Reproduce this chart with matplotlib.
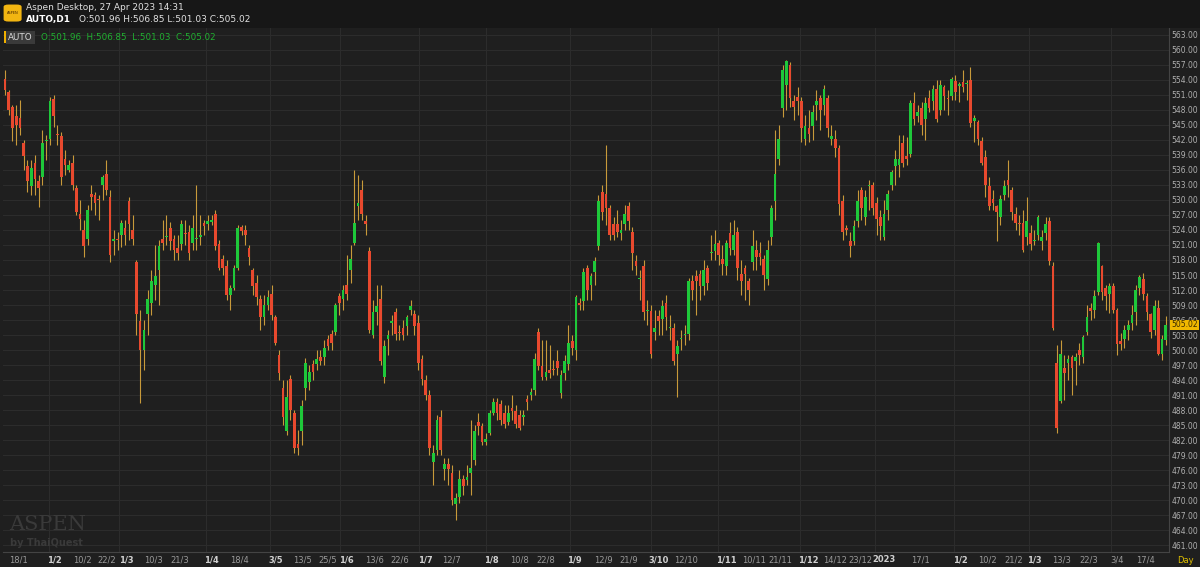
import matplotlib
matplotlib.use("Agg")
import matplotlib.pyplot as plt
from matplotlib.patches import FancyBboxPatch
import numpy as np

# O, H, L, C per daily candle (AUTO, D1)
candles = [
(554.1,556,551,551.9),(551.5,552,547,547.9),(548.6,549,541.8,544.3),(546.8,549,541,545.0),(546.4,550,543,544.3),
(541.4,542,536,538.8),(536.7,538,531.5,533.8),(532.7,538,531,536.3),(537.4,539,531,534.1),(533.8,535,528.5,532.3),
(534.5,544,533,541.4),(541.7,543,538,541.9),(542.1,550.5,541,549.7),(550.1,551,544.5,546.8),(543.2,545,541,543.0),
(542.8,543.5,533,534.5),(538.1,540,535,537.0),(536.0,538,535.5,537.0),(537.4,539,532,533.0),(532.3,533,527,527.6),
(527.2,530,524,526.1),(524.0,526,518.5,520.7),(522.2,529,521,528.0),(531.2,533,528,530.5),(530.9,531.5,527,529.4),
(530.2,531,526,530.0),(533.0,535,530,534.5),(535.2,538,531,532.0),(530.5,532,517.5,519.0),(521.8,524,519,522.2),
(522.2,523.5,520,522.0),(522.9,526,520.5,525.4),(524.3,526,521,522.9),(529.8,530.5,522,525.1),(524.0,527,521,522.2),
(517.5,518,503,507.3),(505.9,508,489.5,500.1),(500.1,506,496,504.1),(507.3,512,503,510.2),(509.5,516,507,513.8),
(513.1,521,510,514.9),(516.0,522,509,520.7),(522.2,526,520,521.4),(522.5,527,521,522.6),(524.3,525.5,520,521.8),
(522.2,523,518,520.0),(520.4,523,518,519.3),(521.1,526,520,525.1),(523.3,526,521,523.2),(523.6,525,518,519.3),
(521.4,527,520,524.3),(522.2,533,520,522.3),(522.5,527,521,522.9),(525.4,526,523,524.7),(525.2,527,524,525.8),
(525.6,527,525,526.0),(527.2,528,520,520.7),(521.1,522,516,516.4),(518.2,519,515,516.4),(516.7,518,510,511.0),
(511.0,513,508,512.4),(512.4,517,512,516.4),(516.4,525,516,524.3),(524.5,525,523,523.7),(524.0,525,521,522.9),
(520.4,521,517,518.6),(516.0,516.5,511,512.8),(513.5,515,509,510.6),(510.2,511,504,506.6),(506.6,511,505,509.1),
(509.1,512,508,510.6),(511.3,513,506,507.0),(506.6,507,501,501.5),(499.0,500,494,495.4),(492.5,494,485,486.7),
(483.8,494,483,490.7),(494.3,495,486,488.1),(487.4,488,479.5,480.5),(481.2,484,479,480.5),(483.8,490,481,488.8),
(492.5,498.5,490,497.5),(493.6,497,492,495.7),(497.2,498,494,495.7),(497.2,500,496,498.3),(498.6,500,497,497.9),
(498.6,502,497,500.4),(502.2,503,500,500.8),(503.3,504,500,501.5),(503.7,509.5,503,509.1),(510.9,511.5,507,509.5),
(510.2,513,508,512.0),(513.1,519,510,511.3),(516.0,521,513.5,518.2),(521.4,536,521,525.4),(528.7,535,526,529.4),
(532.0,534,526,527.2),(525.8,527,523,525.1),(519.7,520.5,503.5,504.1),(503.0,510,502.5,507.7),(507.7,513,505,508.8),
(510.2,513,497,497.9),(494.6,502,493.5,500.8),(502.2,504,499,503.0),(505.5,507,503,505.6),(507.7,508.5,502,503.3),
(503.7,505,502,503.4),(504.4,506,502,503.0),(504.8,507,503,506.6),(508.0,510,507,508.8),(507.3,508,503,504.8),
(505.5,507,496,497.5),(498.3,499,493,494.3),(494.0,495,490,491.0),(491.0,492,479,480.5),(477.6,481,473,479.4),
(480.1,487,479,486.0),(486.7,488,479,480.1),(476.2,478.5,474,477.2),(477.2,478.5,473,476.2),(475.4,477,469,470.0),
(469.3,471.5,466,470.4),(470.7,476,469.5,474.3),(474.3,475,471,472.9),(474.0,477,473,474.7),(475.4,486,471,476.5),
(478.0,485,477,483.8),(485.6,487.5,483,484.9),(484.9,485.5,481,481.6),(481.6,483.5,481,482.3),(483.4,488,483,487.4),
(487.4,490.5,487,489.6),(489.6,490.5,486,487.4),(489.2,490,485,486.0),(487.4,489,484.5,485.2),(485.6,489,485,487.4),
(488.5,491,486,487.8),(487.8,489,484.5,485.2),(487.1,488,484,484.5),(486.7,488,485,487.1),(490.3,491,488,489.6),
(491.0,492.5,490,491.7),(492.1,499.5,491,498.3),(503.7,504.5,496,496.8),(496.8,502,494,494.6),(494.6,502,494,495.7),
(496.1,501,494.5,495.4),(496.1,498,495,496.0),(497.9,500,495,496.4),(491.4,496,490.5,495.0),(495.4,499,494,497.9),
(497.2,505,496,501.5),(501.9,503,499,500.4),(500.1,511,498,510.6),(509.5,510.5,508,509.1),(509.9,516.5,508,515.6),
(516.4,517,510,512.0),(513.1,515.5,510,514.9),(515.6,518.5,513,517.8),(520.7,531,520,529.8),(531.6,533,526,527.6),
(531.2,541,525,528.3),(528.3,529,522,522.9),(525.1,526.5,522,522.9),(525.1,528,522.5,523.6),(523.3,526,522,524.0),
(525.1,529,524,527.2),(528.7,529.5,524,525.8),(523.6,524.5,516,519.3),(517.8,519,515,516.7),(514.2,516,510,514.3),
(516.7,518,506,507.7),(507.8,510,505,507.9),(507.8,509,498.5,499.3),(503.7,508,502,504.4),(506.9,508,503,505.9),
(506.2,510,503,508.8),(509.5,511,504,506.6),(504.4,507,502,504.5),(504.4,505.5,497,497.9),(499.3,502,490.7,500.8),
(502.2,504,500,502.3),(503.0,505,501,503.1),(503.3,514.5,502,513.8),(513.8,515,510,512.0),(514.9,516,507,513.8),
(515.3,516,510,512.8),(512.8,518,511,516.0),(516.4,517,512,513.5),(519.4,523,518,519.5),(519.7,524,518,521.1),
(521.4,522,517,518.9),(518.2,521,515,517.1),(516.7,522,515,521.4),(523.3,525.5,519,520.4),(520.0,526,519,522.9),
(523.6,524.5,514,516.4),(515.3,518,511,513.8),(516.4,517,510,515.3),(513.8,514.5,509,512.0),(517.5,524,516,520.7),
(520.0,522,516,518.6),(519.3,521.5,517,518.6),(518.2,519,512,515.0),(514.2,522,513,520.0),(522.5,529,521,528.3),
(529.8,544,526,535.2),(538.1,545,537,542.1),(548.3,557,546.5,555.9),(553.0,558,548,557.7),(557.0,557.5,548.5,550.4),
(549.7,551,546,548.6),(550.6,552.5,547,549.7),(549.7,550.5,541.5,544.3),(542.1,547,541,544.7),(544.3,548,541.5,543.2),
(544.7,549,542,547.5),(549.0,552,546,549.7),(550.4,551,544,547.9),(549.0,553,547,552.2),(550.4,551,542.5,544.3),
(542.1,545,541,542.8),(542.1,544,538.5,540.3),(540.3,541,527,529.1),(529.8,531,522,523.6),(524.3,525,523,524.0),
(521.8,523.5,518.5,520.7),(521.8,526,521,524.7),(525.8,532,524.5,529.8),(532.0,532.5,526,528.3),(526.5,532,525,530.5),
(532.7,534,528,532.8),(533.0,533.5,527,528.3),(529.4,530.5,523,526.1),(526.5,528,522,524.7),(522.5,530,522,527.2),
(528.0,532,526,531.2),(533.0,536,532,535.6),(536.7,540,533,538.1),(537.0,543,534.5,538.1),(541.4,543,536.5,537.4),
(538.8,542.5,537,538.1),(539.2,550,538.5,549.3),(549.3,551.5,545,546.1),(546.8,549,545.5,547.5),(548.3,549.5,543,545.0),
(546.1,550.5,542,549.3),(550.4,552,547.5,548.3),(549.7,553,548,552.2),(552.2,554,545.5,546.1),(547.9,554,547,553.0),
(552.6,553,548,550.8),(550.4,552,547,550.1),(550.8,554.5,550,554.1),(553.7,555,550,551.5),(552.8,553.5,549.5,553.2),
(553.5,556,551.5,552.6),(553.1,554,550,553.3),(553.9,556.5,544.5,545.4),(545.7,547,541.5,546.4),(545.5,546,541,542.1),
(541.7,542.5,537,537.4),(538.5,540,530.5,533.0),(532.7,534.5,528,528.7),(530.2,532,528,529.4),(528.7,529,521.8,527.6),
(526.5,531,525,530.2),(530.9,534,530,532.7),(534.0,538,530.5,533.0),(532.0,532.5,526,527.6),(527.2,528.5,524,525.4),
(525.2,527,523,525.1),(525.4,528,519.5,520.0),(522.5,530.5,521,525.8),(523.3,525,520,521.1),(521.8,524,521,522.0),
(522.9,527,522,526.5),(521.8,524,520,522.5),(523.3,526.5,522,525.1),(525.8,526.5,517,517.8),(516.7,517.5,504,504.4),
(497.5,501,483.5,484.5),(489.9,502,489.5,499.3),(496.4,499,490,495.4),(497.5,499,494,498.3),(498.6,499,491,496.4),
(497.9,499.5,493,498.6),(500.1,501.5,497,499.0),(498.6,503,497.5,502.6),(503.7,509,503,506.6),(508.4,509.5,506,507.8),
(508.0,512,506.5,510.9),(511.7,521.5,511,521.4),(516.7,517,510,511.7),(512.4,513,508,510.9),(511.3,513.5,507.5,512.8),
(512.8,513.5,507.5,508.0),(508.0,508.5,499,501.2),(501.9,503.5,500,501.2),(502.2,505,500.5,504.1),(504.1,506,502,505.1),
(505.5,509,504,507.0),(507.7,513,505,512.0),(512.4,515,511,514.6),(514.2,515.5,510,511.3),(510.9,511.5,506,507.7),
(507.3,507.5,502.5,503.7),(504.1,510,503,508.8),(508.4,510,499,499.3),(499.3,503,498,502.2),(501.96,506.85,501.03,505.02),
]
opens = [c[0] for c in candles]
highs = [c[1] for c in candles]
lows = [c[2] for c in candles]
closes = [c[3] for c in candles]

tick_pos = [3.7,13.3,20.7,27.0,32.3,39.6,46.5,55,62.4,72.2,79.2,86.0,90.9,98.3,105.2,111.8,119,129.6,137,144,
            151.7,159.4,166,174,181.4,192,199.5,206.4,213.8,221,227.8,234,243.6,254.2,261.6,268.5,274.1,281.3,288.4,296.1,303.6]
tick_labels = ["18/1","1/2","10/2","22/2","1/3","10/3","21/3","1/4","18/4","3/5","13/5","25/5","1/6","13/6","22/6",
               "1/7","12/7","1/8","10/8","22/8","1/9","12/9","21/9","3/10","12/10","1/11","10/11","21/11","1/12",
               "14/12","23/12","2023","17/1","1/2","10/2","21/2","1/3","13/3","22/3","3/4","17/4"]
bold_labels = {"1/2","1/3","1/4","3/5","1/6","1/7","1/8","1/9","3/10","1/11","1/12","2023"}
month_grid = [11.7,30.5,53.4,70.6,89.2,110.2,128,150.3,172.1,189.9,211.7,231.6,252.6,272.5,294.5]
price_ticks = list(range(461, 564, 3))

BG = "#1f1f1f"
GREEN = "#1ec83a"
RED = "#e8492e"
WICK = "#c89a3a"

fig = plt.figure(figsize=(12, 5.67), dpi=100, facecolor=BG)
ax = fig.add_axes([0.0025, 0.026, 0.9715, 0.925])
ax.set_facecolor(BG)
n = len(closes)
x = np.arange(n)
o = np.array(opens); c = np.array(closes)
up = c >= o
ax.vlines(x, lows, highs, color=WICK, linewidth=0.8, zorder=2)
bottoms = np.minimum(o, c)
heights = np.maximum(np.abs(c - o), 0.25)
ax.bar(x[up], heights[up], bottom=bottoms[up], width=0.72, color=GREEN, zorder=3, linewidth=0)
ax.bar(x[~up], heights[~up], bottom=bottoms[~up], width=0.72, color=RED, zorder=3, linewidth=0)

ax.set_xlim(-0.5, n - 0.2)
ax.set_ylim(459.6, 564.4)
for p in price_ticks:
    ax.axhline(p, color="#2c2c2c", linewidth=0.8, zorder=0)
for g in month_grid:
    ax.axvline(g, color="#2c2c2c", linewidth=0.8, zorder=0)
for s in ax.spines.values():
    s.set_visible(False)
ax.spines["right"].set_visible(True); ax.spines["right"].set_color("#444444")
ax.spines["bottom"].set_visible(True); ax.spines["bottom"].set_color("#444444")
ax.yaxis.tick_right()
ax.set_yticks(price_ticks)
ax.set_yticklabels([f"{p:.2f}" for p in price_ticks], fontsize=5.5, color="#b0b0b0")
ax.tick_params(axis="y", length=0, pad=2)
ax.set_xticks(tick_pos)
ax.set_xticklabels(tick_labels, fontsize=6, color="#9a9a9a")
ax.tick_params(axis="x", length=0, pad=2)
for lab in ax.get_xticklabels():
    if lab.get_text() in bold_labels:
        lab.set_fontweight("bold"); lab.set_color("#d0d0d0")

# last price tag
ax.text(1.002, (closes[-1]-459.6)/(564.4-459.6), f"{closes[-1]:.2f}", transform=ax.transAxes,
        fontsize=5.5, color="#3a2a00", va="center", ha="left",
        bbox=dict(boxstyle="square,pad=0.12", fc="#f0b800", ec="none"), zorder=5)
fig.text(0.988, 0.012, "Day", fontsize=6, color="#e0c000", ha="center", va="center")

# header
fig.patches.append(FancyBboxPatch((0.0, 0.951), 1.0, 0.049, boxstyle="square,pad=0", transform=fig.transFigure,
                                  fc="#171717", ec="none", zorder=0))
fig.patches.append(FancyBboxPatch((0.004, 0.963), 0.013, 0.028, boxstyle="round,pad=0.001,rounding_size=0.004",
                                  transform=fig.transFigure, fc="#f2b511", ec="none"))
fig.text(0.0105, 0.977, "ASPEN", fontsize=2.5, color="#402000", ha="center", va="center")
fig.text(0.022, 0.986, "Aspen Desktop, 27 Apr 2023 14:31", fontsize=6.5, color="#e0e0e0", va="center")
fig.text(0.022, 0.965, "AUTO,D1", fontsize=6.5, color="#ffffff", fontweight="bold", va="center")
fig.text(0.066, 0.965, "O:501.96 H:506.85 L:501.03 C:505.02", fontsize=6.5, color="#e0e0e0", va="center")

# in-chart label
fig.text(0.0065, 0.934, "AUTO", fontsize=6.3, color="#d8d8d8", va="center",
         bbox=dict(boxstyle="square,pad=0.25", fc="#3a3a3a", ec="none"))
fig.patches.append(FancyBboxPatch((0.0035, 0.924), 0.0015, 0.022, boxstyle="square,pad=0",
                                  transform=fig.transFigure, fc="#f0b000", ec="none"))
fig.text(0.034, 0.934, "O:501.96  H:506.85  L:501.03  C:505.02", fontsize=6.3, color="#20b030", va="center")

# watermark
fig.text(0.008, 0.075, "ASPEN", fontsize=15, color="#3a3a3a", family="DejaVu Serif", va="center")
fig.text(0.008, 0.042, "by ThaiQuest", fontsize=7, color="#3a3a3a", fontweight="bold", va="center")

fig.savefig("out.png", dpi=100, facecolor=BG)
